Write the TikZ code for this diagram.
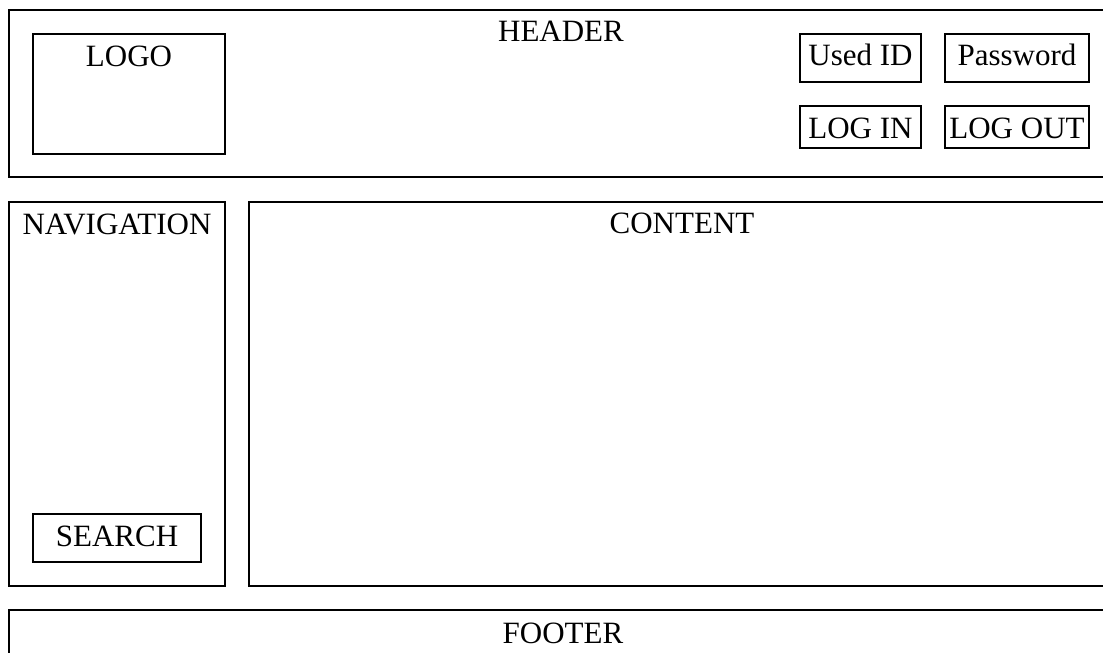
\documentclass[tikz,border=0pt]{standalone}
\usepackage{fontspec}
\setmainfont{Liberation Serif}
\begin{document}
\begin{tikzpicture}[x=1pt,y=-1pt,
  box/.style={draw=black,line width=2.2pt,inner sep=0pt},
  txt/.style={anchor=base,inner sep=0pt,font=\fontsize{31}{36}\selectfont}]
\useasboundingbox (0,0) rectangle (1103,653);
\clip (0,0) rectangle (1103,653);
% outer regions
\draw[box] (9,10) rectangle (1110,177);
\draw[box] (9,202) rectangle (225,586);
\draw[box] (249,202) rectangle (1110,586);
\draw[box] (9,610) rectangle (1110,660);
\node[txt] (header) at (561,41.7) {HEADER};
\node[txt] (nav) at (117,234) {NAVIGATION};
\node[txt] (content) at (682,233) {CONTENT};
\node[txt] (footer) at (563,643) {FOOTER};
% logo
\draw[box] (33,34) rectangle (225,154);
\node[txt] (logo) at (129,66.5) {LOGO};
% small boxes
\draw[box] (800,34) rectangle (921,82);
\node[txt] (uid) at (860.5,65) {Used ID};
\draw[box] (945,34) rectangle (1089,82);
\node[txt] (pwd) at (1017,65) {Password};
\draw[box] (800,106) rectangle (921,148);
\node[txt] (login) at (860.5,138) {LOG IN};
\draw[box] (945,106) rectangle (1089,148);
\node[txt] (logout) at (1017,138) {LOG OUT};
\draw[box] (33,514) rectangle (201,562);
\node[txt] (search) at (117,546) {SEARCH};
\end{tikzpicture}
\end{document}
